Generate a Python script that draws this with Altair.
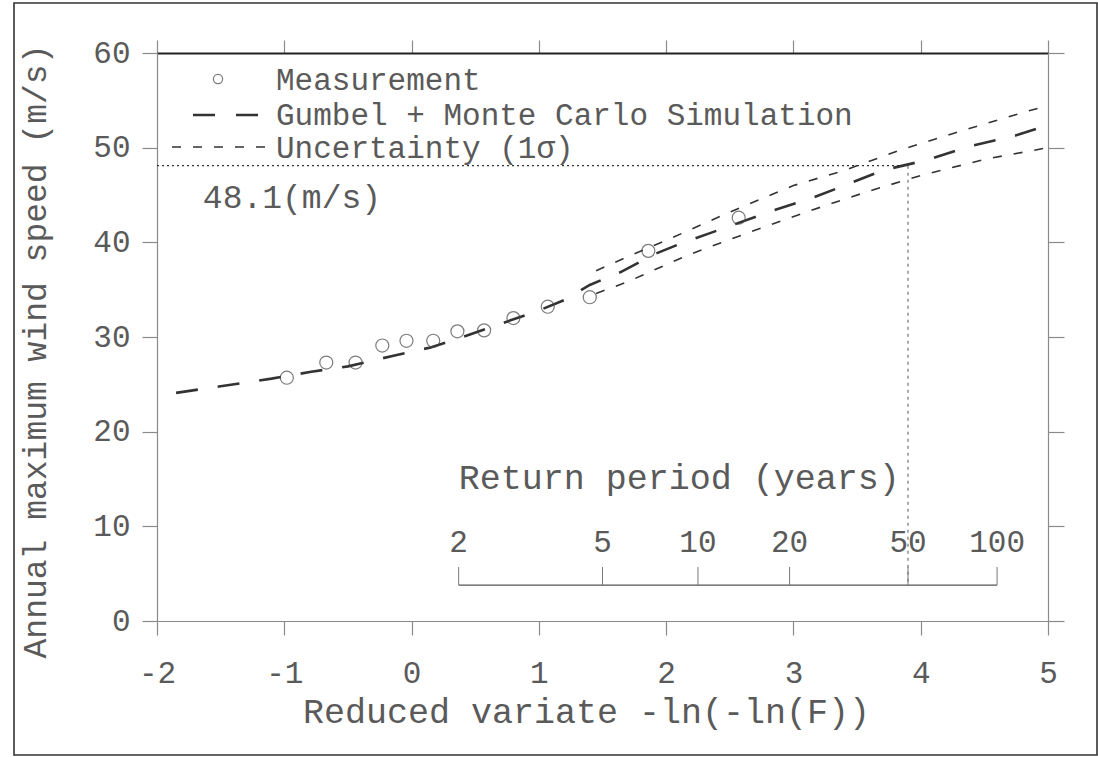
import altair as alt
import pandas as pd

# ---------------- data ----------------
# Measurements (reduced variate, annual maximum wind speed m/s)
meas_x = [-0.98, -0.67, -0.44, -0.23, -0.04, 0.17, 0.36, 0.57, 0.80, 1.07, 1.40, 1.86, 2.57]
meas_y = [25.7, 27.3, 27.3, 29.1, 29.6, 29.6, 30.6, 30.7, 32.0, 33.2, 34.2, 39.1, 42.6]

# Gumbel + Monte Carlo simulation (mean curve)
gumbel_x = [-1.85, -1.5, -1.1, -0.8, -0.5, -0.15, 0.15, 0.4, 0.7, 1.0, 1.2, 1.4,
            1.65, 1.9, 2.1, 2.35, 2.85, 3.15, 3.4, 3.7, 4.05, 4.4, 4.75, 5.0]
gumbel_y = [24.1, 24.8, 25.6, 26.3, 26.9, 28.0, 28.9, 30.0, 31.4, 32.8, 33.9, 35.5,
            36.9, 38.7, 39.8, 41.0, 43.4, 44.7, 46.0, 47.6, 48.7, 50.2, 51.3, 52.4]

# Uncertainty (1 sigma) bounds
upper_x = [1.45, 1.7, 2.0, 2.5, 3.0, 3.4, 3.85, 4.35, 4.85, 5.0]
upper_y = [37.0, 38.5, 40.2, 43.2, 46.0, 47.6, 49.8, 51.9, 53.9, 54.4]
lower_x = [1.45, 1.7, 2.17, 2.67, 3.11, 3.58, 4.01, 4.53, 4.84, 5.0]
lower_y = [34.6, 35.85, 38.65, 41.15, 43.25, 45.35, 47.1, 48.85, 49.6, 50.0]

# Return period scale (years) and its position on the reduced variate axis
return_period_labels = ["2", "5", "10", "20", "50", "100"]
return_period_x = [0.37, 1.50, 2.25, 2.97, 3.90, 4.60]

# 50-year design wind speed
design_x = 3.90
design_speed = 48.1
design_label = "48.1(m/s)"

x_ticks = [-2, -1, 0, 1, 2, 3, 4, 5]
y_ticks = [0, 10, 20, 30, 40, 50, 60]

legend_labels = ["Measurement", "Gumbel + Monte Carlo Simulation", "Uncertainty (1\u03c3)"]

# ---------------- styling ----------------
FONT = "Courier New, Liberation Mono, monospace"
TXT = "#5a5a5a"
INK = "#333333"
AX = "#8a8a8a"

xs = alt.Scale(domain=[-2, 5], nice=False, zero=False)
ys = alt.Scale(domain=[0, 60], nice=False, zero=False)

df_g = pd.DataFrame({"x": gumbel_x, "y": gumbel_y})
df_m = pd.DataFrame({"x": meas_x, "y": meas_y})
df_u = pd.concat([
    pd.DataFrame({"x": upper_x, "y": upper_y, "band": "upper"}),
    pd.DataFrame({"x": lower_x, "y": lower_y, "band": "lower"}),
])
df_rp = pd.DataFrame({"x": return_period_x, "label": return_period_labels})
df_design = pd.DataFrame({"x0": [x_ticks[0]], "x": [design_x], "y": [design_speed],
                          "label": [design_label]})
one = pd.DataFrame({"k": [0]})

gumbel = alt.Chart(df_g).mark_line(
    color=INK, strokeWidth=2.6, strokeDash=[22, 20], clip=True
).encode(
    x=alt.X("x:Q", scale=xs, axis=alt.Axis(
        orient="bottom", values=x_ticks, title="Reduced variate -ln(-ln(F))",
        labelExpr="'' + datum.value",
        tickSize=14, labelPadding=47, labelBaseline="alphabetic", labelFontSize=31,
        titleFontSize=35, titleX=429, titleY=101, titleBaseline="alphabetic",
        labelFlush=False)),
    y=alt.Y("y:Q", scale=ys, axis=alt.Axis(
        orient="left", values=y_ticks, title="Annual maximum wind speed (m/s)",
        tickSize=15, labelPadding=12, labelFontSize=31,
        titleFontSize=33, titleX=-105, titleY=298)),
)

unc = alt.Chart(df_u).mark_line(
    color=INK, strokeWidth=1.6, strokeDash=[9, 12], clip=True
).encode(
    x=alt.X("x:Q", scale=xs, axis=None),
    y=alt.Y("y:Q", scale=ys, axis=None),
    detail="band:N",
)

points = alt.Chart(df_m).mark_point(
    shape="circle", filled=False, size=170, color="#444444", strokeWidth=1.2
).encode(
    x=alt.X("x:Q", scale=xs, axis=alt.Axis(
        orient="top", values=x_ticks, labels=False, title=None, tickSize=13,
        domainColor="#222222", domainWidth=1.8)),
    y=alt.Y("y:Q", scale=ys, axis=alt.Axis(
        orient="right", values=y_ticks, labels=False, title=None, tickSize=16)),
)

# design-value guide lines
hline = alt.Chart(df_design).mark_rule(color=INK, strokeWidth=1.3, strokeDash=[2, 3]).encode(
    x=alt.X("x0:Q", scale=xs, axis=None),
    x2="x:Q",
    y=alt.Y("y:Q", scale=ys, axis=None),
)
vline = alt.Chart(df_design).mark_rule(color="#666666", strokeWidth=1.1, strokeDash=[3, 4]).encode(
    x=alt.X("x:Q", scale=xs, axis=None),
    y=alt.Y("y:Q", scale=ys, axis=None),
    y2=alt.Y2Datum(3.8),
)
design_text = alt.Chart(df_design).mark_text(
    font=FONT, fontSize=33, color=TXT, align="left", baseline="alphabetic"
).encode(
    x=alt.XDatum(-1.64, scale=xs, axis=None),
    y=alt.YDatum(43.6, scale=ys, axis=None),
    text="label:N",
)

# return period scale
rp_line = alt.Chart(df_rp).mark_rule(color="#555555", strokeWidth=1.3).encode(
    x=alt.X("min(x):Q", scale=xs, axis=None),
    x2="max(x):Q",
    y=alt.YDatum(3.8, scale=ys, axis=None),
)
rp_ticks = alt.Chart(df_rp).mark_rule(color="#777777", strokeWidth=1).encode(
    x=alt.X("x:Q", scale=xs, axis=None),
    y=alt.YDatum(3.8, scale=ys, axis=None),
    y2=alt.Y2Datum(5.7),
)
rp_labels = alt.Chart(df_rp).mark_text(
    font=FONT, fontSize=31, color=TXT, align="center", baseline="alphabetic"
).encode(
    x=alt.X("x:Q", scale=xs, axis=None),
    y=alt.YDatum(7.3, scale=ys, axis=None),
    text="label:N",
)
rp_title = alt.Chart(df_rp).mark_text(
    font=FONT, fontSize=35, color=TXT, align="left", baseline="alphabetic"
).encode(
    x=alt.X("min(x):Q", scale=xs, axis=None),
    y=alt.YDatum(13.9, scale=ys, axis=None),
    text=alt.value("Return period (years)"),
)

# in-plot legend
leg_circle = alt.Chart(one).mark_point(
    shape="circle", filled=False, size=85, color="#444444", strokeWidth=1.2
).encode(x=alt.value(61), y=alt.value(26))
leg_dash1 = alt.Chart(one).mark_rule(color=INK, strokeWidth=2.6, strokeDash=[22, 21]).encode(
    x=alt.value(36), x2=alt.value(102), y=alt.value(62))
leg_dash2 = alt.Chart(one).mark_rule(color=INK, strokeWidth=1.6, strokeDash=[9, 12]).encode(
    x=alt.value(15), x2=alt.value(108), y=alt.value(94))
leg_texts = [
    alt.Chart(one).mark_text(
        font=FONT, fontSize=31, color=TXT, align="left", baseline="alphabetic"
    ).encode(x=alt.value(119), y=alt.value(yy), text=alt.value(lbl))
    for lbl, yy in zip(legend_labels, [37, 72, 105])
]

# outer frame of the figure
frame = alt.Chart(one).mark_rect(fillOpacity=0, stroke="#333333", strokeWidth=1.6).encode(
    x=alt.value(-143), x2=alt.value(940), y=alt.value(-50), y2=alt.value(702))

chart = alt.layer(
    gumbel, points, unc, hline, vline, design_text,
    rp_line, rp_ticks, rp_labels, rp_title,
    leg_circle, leg_dash1, leg_dash2, *leg_texts, frame,
).properties(
    width=891, height=568,
    autosize=alt.AutoSizeParams(type="none"),
    padding={"left": 157, "top": 53, "right": 50, "bottom": 136},
    background="white",
).configure_view(
    stroke=None
).configure_axis(
    grid=False,
    labelFont=FONT, labelColor=TXT,
    titleFont=FONT, titleColor=TXT, titleFontWeight="normal",
    domainColor=AX, tickColor=AX, domainWidth=1.2, tickWidth=1.2,
)

chart.save("out.html", embed_options={"renderer": "svg", "actions": False})
